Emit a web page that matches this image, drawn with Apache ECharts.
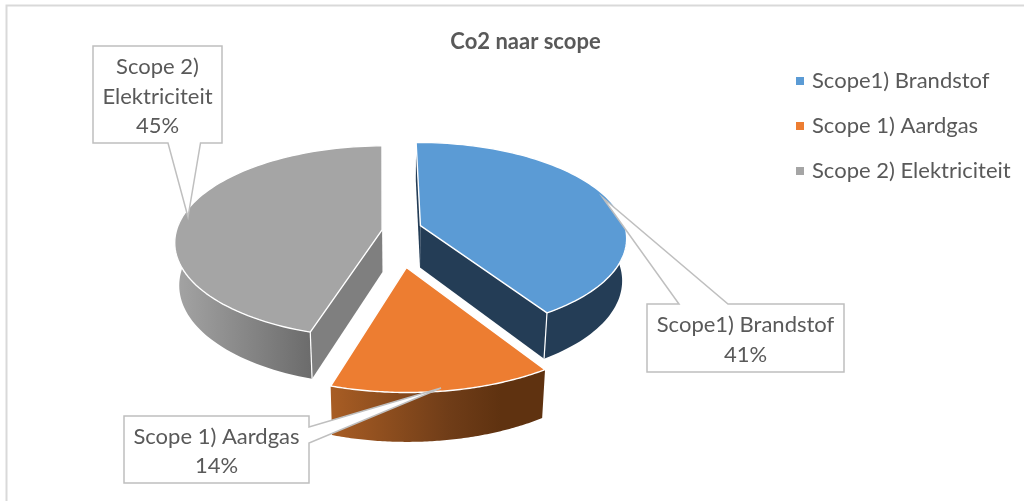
<!DOCTYPE html>
<html><head><meta charset="utf-8">
<style>html,body{margin:0;padding:0;background:#fff}#c{width:1024px;height:501px}</style>
<script src="https://cdn.jsdelivr.net/npm/echarts@6/dist/echarts.min.js"></script>
</head><body><div id="c"></div>
<script>
const titleText = 'Co2 naar scope';
const categories = ['Scope1) Brandstof', 'Scope 1) Aardgas', 'Scope 2) Elektriciteit'];
const values = [41, 14, 45];
const calloutLines = [['Scope1) Brandstof'], ['Scope 1) Aardgas'], ['Scope 2)', 'Elektriciteit']];

const FONT = 'Lato, "Open Sans", sans-serif';
const topColors = ['#5b9bd5', '#ed7d31', '#a5a5a5'];
// perspective view of the tilted disc
const view = {X0: 401, Y0: 228, A: 205, B: 94, k: 0.123, depth: 42, fx: 0.98, fy: 1.045, rot: -0.012};
// explosion of each slice in the disc plane, with its radius
const explode = [[0.095, -0.025, 1], [0.025, 0.40, 1.04], [-0.092, 0.02, 1]];
const wallFill = [
  {outer: '#243d56', inner: '#243d56'},
  {outer: {type: 'linear', global: true, x: 331, y: 0, x2: 543, y2: 0, colorStops: [{offset: 0, color: '#a85d24'}, {offset: 0.55, color: '#703d18'}, {offset: 0.8, color: '#5f3210'}, {offset: 1, color: '#5f3210'}]}, inner: '#5f3210'},
  {outer: {type: 'linear', global: true, x: 178, y: 0, x2: 310, y2: 0, colorStops: [{offset: 0, color: '#a3a3a3'}, {offset: 1, color: '#6c6c6c'}]}, inner: '#7f7f7f'}
];
const total = values.reduce((a, b) => a + b, 0);
function project(u, v) {
  const w = 1 - view.k * v;
  return [view.X0 + view.A * u / w, view.Y0 + view.B * v / w];
}
function base(p) {
  return [view.X0 + view.fx * (p[0] - view.X0), view.Y0 + view.depth + view.fy * (p[1] - view.Y0)];
}
function sliceItem(i) {
  return function (params, api) {
    const val = api.value(0);
    let before = 0;
    for (let j = 0; j < i; j++) before += values[j];
    const a0 = before / total * 2 * Math.PI + view.rot, a1 = (before + val) / total * 2 * Math.PI + view.rot;
    const [ou, ov, r] = explode[i];
    const arc = [], front = [];
    const n = 90;
    for (let s = 0; s <= n; s++) {
      const a = a0 + (a1 - a0) * s / n;
      const p = project(ou + r * Math.sin(a), ov - r * Math.cos(a));
      arc.push(p);
      if (-Math.cos(a) > -0.12) front.push(p);
    }
    const apex = project(ou, ov);
    const frontBase = front.map(base), apexBase = base(apex);
    const poly = (pts, fill, stroke, lw) => ({type: 'polygon', shape: {points: pts},
      style: {fill, stroke: stroke || null, lineWidth: lw || 0, lineJoin: 'round'}});
    const seg = (p, q) => ({type: 'line', shape: {x1: p[0], y1: p[1], x2: q[0], y2: q[1]},
      style: {stroke: '#ffffff', lineWidth: 1.2}});
    const first = arc[0], last = arc[n];
    const kids = [];
    if (i === 0) {
      kids.push(poly([apex, first, base(first), apexBase], wallFill[i].inner));
      kids.push(poly([apex, last, base(last), apexBase], wallFill[i].inner));
    }
    if (i === 2) kids.push(poly([apex, first, base(first), apexBase], wallFill[i].inner));
    kids.push(poly(front.concat(frontBase.slice().reverse()), wallFill[i].outer));
    if (i === 0) kids.push(seg(last, base(last)));
    if (i === 2) kids.push(seg(first, base(first)));
    kids.push(poly([apex].concat(arc), topColors[i], '#ffffff', 1.4));
    return {type: 'group', children: kids};
  };
}
// draw order back to front
const order = [2, 0, 1];
const series = order.map((i, z) => ({
  type: 'custom', name: categories[i], coordinateSystem: 'none', silent: true, z: 2 + z,
  animation: false, itemStyle: {color: topColors[i]},
  renderItem: sliceItem(i), data: [[values[i]]]
}));

const callouts = [
  {box: [647, 304, 844, 372], ptr: [[728, 304], [603, 198], [679, 304]], side: 'top'},
  {box: [124, 416, 309, 483], ptr: [[309, 427], [441, 388], [309, 443]], side: 'right'},
  {box: [93, 46, 222, 143], ptr: [[200.5, 143], [188, 217], [168, 143]], side: 'bottom'}
];
function calloutGraphics() {
  const out = [];
  callouts.forEach((c, i) => {
    const [x0, y0, x1, y1] = c.box;
    let pts;
    if (c.side === 'top') pts = [[x0, y0], c.ptr[2], c.ptr[1], c.ptr[0], [x1, y0], [x1, y1], [x0, y1]];
    if (c.side === 'right') pts = [[x0, y0], [x1, y0], c.ptr[0], c.ptr[1], c.ptr[2], [x1, y1], [x0, y1]];
    if (c.side === 'bottom') pts = [[x0, y0], [x1, y0], [x1, y1], c.ptr[0], c.ptr[1], c.ptr[2], [x0, y1]];
    out.push({type: 'polygon', z: 50, silent: true, shape: {points: pts},
      style: {fill: '#ffffff', stroke: '#bfbfbf', lineWidth: 1.5, lineJoin: 'miter'}});
    out.push({type: 'text', z: 51, silent: true, x: (x0 + x1) / 2, y: (y0 + y1) / 2 + 2,
      style: {text: calloutLines[i].concat([values[i] + '%']).join('\n'), font: '22px ' + FONT,
        fill: '#595959', align: 'center', verticalAlign: 'middle', lineHeight: 29.5}});
  });
  return out;
}

const chart = echarts.init(document.getElementById('c'), null, {renderer: 'canvas'});
chart.setOption({
  animation: false,
  backgroundColor: '#ffffff',
  title: {text: titleText, left: 520.5, textAlign: 'center', top: 26,
    textStyle: {fontFamily: FONT, fontWeight: 'bold', fontSize: 22, color: '#595959'}},
  legend: {orient: 'vertical', left: 796, top: 69, padding: 0, icon: 'rect', itemWidth: 8, itemHeight: 8, itemGap: 21, selectedMode: false,
    data: categories, textStyle: {fontFamily: FONT, fontSize: 22, color: '#595959', lineHeight: 24, padding: [0, 0, 0, 3]}},
  graphic: [{type: 'polyline', z: 1, silent: true, shape: {points: [[6.5, 501], [6.5, 5.5], [1024, 5.5]]},
    style: {stroke: '#d9d9d9', lineWidth: 2, fill: null}}].concat(calloutGraphics()),
  series
});
</script></body></html>
